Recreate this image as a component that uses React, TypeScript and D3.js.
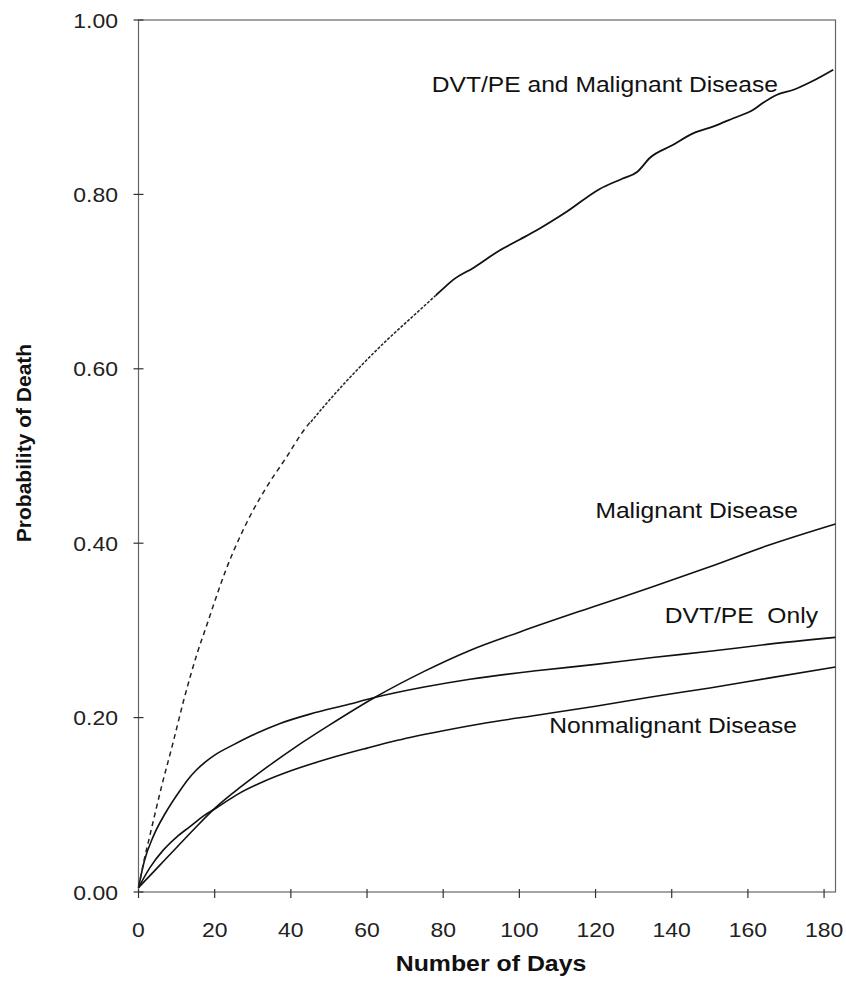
import React, { useRef, useEffect } from 'react';
import * as d3 from 'd3';

// days, probability of death
const xTicks = [0, 20, 40, 60, 80, 100, 120, 140, 160, 180];
const yTicks = [0, 0.2, 0.4, 0.6, 0.8, 1.0];

const dvtOnly: [number, number][] = [
  [0, 0.005], [1.5, 0.035], [4, 0.065], [7, 0.09], [11, 0.117], [13, 0.129],
  [15, 0.139], [17.5, 0.149], [20, 0.157], [25, 0.169], [30, 0.18], [37, 0.193],
  [45, 0.204], [55, 0.215], [62, 0.223], [75, 0.235], [87, 0.244], [105, 0.254],
  [120, 0.261], [135, 0.269], [150, 0.276], [165, 0.284], [183, 0.292],
];

const nonMalignant: [number, number][] = [
  [0, 0.005], [3, 0.028], [6.5, 0.048], [10, 0.063], [13.5, 0.075], [17, 0.087],
  [20.3, 0.096], [26, 0.112], [33, 0.127], [40, 0.139], [50, 0.153], [60, 0.165],
  [68, 0.174], [80, 0.185], [90, 0.193], [105, 0.203], [120, 0.213],
  [135, 0.224], [150, 0.234], [165, 0.245], [183, 0.258],
];

const malignant: [number, number][] = [
  [0, 0.005], [5, 0.028], [10, 0.051], [15, 0.074], [20.3, 0.097], [27, 0.121],
  [34, 0.144], [41.5, 0.167], [50, 0.191], [62, 0.223], [75, 0.253], [87, 0.277],
  [100, 0.298], [120, 0.328], [135, 0.35], [150, 0.373], [165, 0.397], [183, 0.422],
];

const dvtMalignant: [number, number][] = [
  [0, 0.005], [1.5, 0.037], [3, 0.065], [6, 0.12], [9, 0.17], [12, 0.222],
  [15.5, 0.275], [18, 0.307], [20, 0.333], [23, 0.37], [26.6, 0.407], [30, 0.437],
  [34, 0.467], [38.9, 0.499], [43, 0.527], [48.5, 0.556], [54, 0.583], [59, 0.606],
  [65, 0.632], [72, 0.66], [76.5, 0.678], [80, 0.692], [82.6, 0.702], [88, 0.716],
  [94.9, 0.736], [100, 0.748], [105, 0.76], [112.4, 0.78], [121, 0.806],
  [127, 0.818], [131, 0.826], [134.3, 0.842], [140, 0.856], [145.6, 0.87],
  [151, 0.878], [156, 0.887], [161.4, 0.897], [164, 0.905], [167.5, 0.914],
  [172, 0.92], [177, 0.93], [182.4, 0.943],
];

const dashEnd = 45;
const dotEnd = 78;

export default function App() {
  const ref = useRef<SVGSVGElement>(null);
  const width = 846;
  const height = 981;

  useEffect(() => {
    const svg = d3.select(ref.current);
    svg.selectAll('*').remove();

    const x = d3.scaleLinear().domain([0, 183]).range([138.5, 835.5]);
    const y = d3.scaleLinear().domain([0, 1]).range([892, 20]);
    const font = "'Liberation Sans', Arial, sans-serif";
    const sx = 1.12;

    const line = d3.line<[number, number]>()
      .x(d => x(d[0]))
      .y(d => y(d[1]))
      .curve(d3.curveMonotoneX);

    // frame
    svg.append('rect')
      .attr('x', x(0)).attr('y', y(1))
      .attr('width', x(183) - x(0)).attr('height', y(0) - y(1))
      .attr('fill', 'none').attr('stroke', '#666').attr('stroke-width', 1.2);

    // y ticks
    yTicks.forEach(t => {
      svg.append('line')
        .attr('x1', x(0) - 5).attr('x2', x(0) + 5)
        .attr('y1', y(t)).attr('y2', y(t))
        .attr('stroke', '#333').attr('stroke-width', 1.2);
      svg.append('text')
        .attr('transform', `translate(118,${y(t) + 7.5}) scale(${sx},1)`)
        .attr('text-anchor', 'end')
        .attr('font-family', font).attr('font-size', 20.5)
        .attr('fill', '#222')
        .text(d3.format('.2f')(t));
    });

    // x ticks
    xTicks.forEach(t => {
      svg.append('line')
        .attr('x1', x(t)).attr('x2', x(t))
        .attr('y1', y(0) - 3).attr('y2', y(0) + 6)
        .attr('stroke', '#333').attr('stroke-width', 1.2);
      svg.append('text')
        .attr('transform', `translate(${x(t)},937) scale(${sx},1)`)
        .attr('text-anchor', 'middle')
        .attr('font-family', font).attr('font-size', 20.5)
        .attr('fill', '#222')
        .text(t);
    });

    // curves
    const plain = [dvtOnly, nonMalignant, malignant];
    plain.forEach(s => {
      svg.append('path')
        .attr('d', line(s))
        .attr('fill', 'none').attr('stroke', '#111').attr('stroke-width', 1.6);
    });

    const dashed = dvtMalignant.filter(d => d[0] <= 48.5);
    const dotted = dvtMalignant.filter(d => d[0] >= 43 && d[0] <= 80);
    const solid = dvtMalignant.filter(d => d[0] >= 76.5);
    // split the top curve where the line style changes
    const clipPath = (lo: number, hi: number, id: string) => {
      svg.append('clipPath').attr('id', id)
        .append('rect')
        .attr('x', x(lo)).attr('y', 0)
        .attr('width', x(hi) - x(lo)).attr('height', height);
    };
    clipPath(-5, dashEnd, 'c-dash');
    clipPath(dashEnd, dotEnd, 'c-dot');
    clipPath(dotEnd, 190, 'c-solid');
    svg.append('path').attr('d', line(dashed)).attr('clip-path', 'url(#c-dash)')
      .attr('fill', 'none').attr('stroke', '#222').attr('stroke-width', 1.5)
      .attr('stroke-dasharray', '5,4');
    svg.append('path').attr('d', line(dotted)).attr('clip-path', 'url(#c-dot)')
      .attr('fill', 'none').attr('stroke', '#222').attr('stroke-width', 1.5)
      .attr('stroke-dasharray', '3,1.5');
    svg.append('path').attr('d', line(solid)).attr('clip-path', 'url(#c-solid)')
      .attr('fill', 'none').attr('stroke', '#111').attr('stroke-width', 1.8);

    // curve labels
    const labels = [
      { text: 'DVT/PE and Malignant Disease', px: 778, py: 92 },
      { text: 'Malignant Disease', px: 798, py: 518 },
      { text: 'DVT/PE\u00a0\u00a0Only', px: 818, py: 623 },
      { text: 'Nonmalignant Disease', px: 797, py: 733 },
    ];
    labels.forEach(l => {
      svg.append('text')
        .attr('transform', `translate(${l.px},${l.py}) scale(${sx},1)`)
        .attr('text-anchor', 'end')
        .attr('font-family', font).attr('font-size', 22)
        .attr('fill', '#111')
        .text(l.text);
    });

    // axis titles
    svg.append('text')
      .attr('transform', `translate(31,443) rotate(-90)`)
      .attr('text-anchor', 'middle')
      .attr('font-family', font).attr('font-size', 21).attr('font-weight', 'bold')
      .attr('fill', '#111')
      .text('Probability of Death');

    svg.append('text')
      .attr('transform', `translate(491,971) scale(1.13,1)`)
      .attr('text-anchor', 'middle')
      .attr('font-family', font).attr('font-size', 22).attr('font-weight', 'bold')
      .attr('fill', '#111')
      .text('Number of Days');
  }, []);

  return (
    <svg ref={ref} width={width} height={height}
      style={{ position: 'absolute', left: 0, top: 0, background: '#fff' }} />
  );
}
